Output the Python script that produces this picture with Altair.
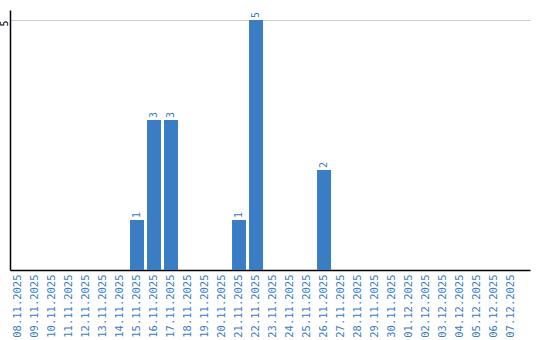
import altair as alt
import pandas as pd

dates = ["08.11.2025","09.11.2025","10.11.2025","11.11.2025","12.11.2025","13.11.2025",
         "14.11.2025","15.11.2025","16.11.2025","17.11.2025","18.11.2025","19.11.2025",
         "20.11.2025","21.11.2025","22.11.2025","23.11.2025","24.11.2025","25.11.2025",
         "26.11.2025","27.11.2025","28.11.2025","29.11.2025","30.11.2025","01.12.2025",
         "02.12.2025","03.12.2025","04.12.2025","05.12.2025","06.12.2025","07.12.2025"]
values = [0,0,0,0,0,0,0,1,3,3,0,0,0,1,5,0,0,0,2,0,0,0,0,0,0,0,0,0,0,0]

df = pd.DataFrame({"date": dates, "value": values})
df["label"] = df["value"].apply(lambda v: str(v) if v > 0 else "")

blue = "#3a7dc4"
FONT = "DejaVu Sans Mono"

xscale = alt.Scale(paddingInner=3/17, paddingOuter=0.38, align=0.077)
x = alt.X("date:N", sort=dates, title=None, scale=xscale,
          axis=alt.Axis(labelAngle=-90, labelColor=blue, labelFont=FONT, labelFontSize=10.5,
                        ticks=False, domainColor="#000", domainWidth=1.5, labelPadding=4))
y = alt.Y("value:Q", title=None, scale=alt.Scale(domain=[0, 5.2], nice=False),
          axis=alt.Axis(values=[5], labelAngle=-90, labelFont=FONT, labelFontSize=10,
                        labelColor="#000", ticks=False, domainColor="#000", domainWidth=1.5,
                        gridColor="#cccccc", labelPadding=6, labelAlign="right",
                        labelBaseline="middle"))

bars = alt.Chart(df).mark_bar(color=blue).encode(x=x, y=y)
text = alt.Chart(df).mark_text(angle=270, align="left", baseline="middle", dx=2,
                               color=blue, font=FONT, fontSize=10).encode(
    x=alt.X("date:N", sort=dates, scale=xscale), y="value:Q", text="label:N")

chart = (bars + text).properties(
    width=520, height=260,
    autosize=alt.AutoSizeParams(type="none"),
    padding={"left": 10, "top": 10, "right": 10, "bottom": 70},
).configure_view(stroke=None).configure_axis(grid=False).configure_axisY(grid=True)

chart.save("out.html", embed_options={"renderer": "svg", "actions": False})
